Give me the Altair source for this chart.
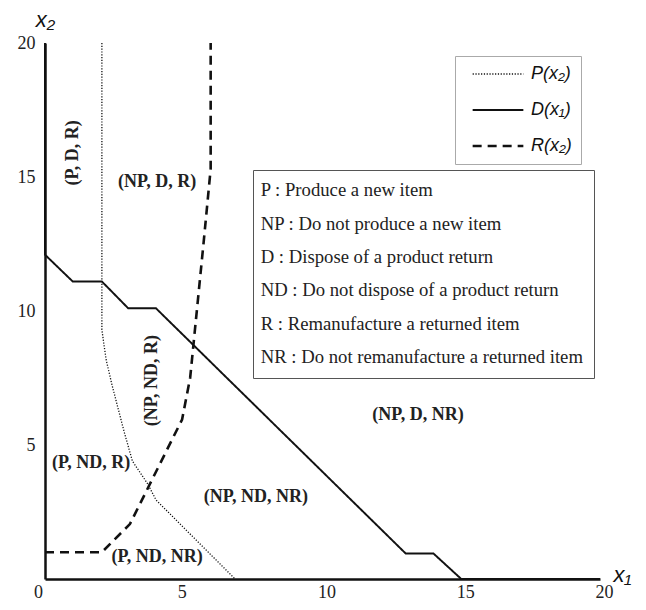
import altair as alt
import pandas as pd

# Threshold curves, coordinates (x1, x2)
P_x1 = [2.05, 2.05, 2.2, 2.4, 2.85, 3.15, 3.7, 4.0, 6.85]
P_x2 = [20.0, 9.3, 8.2, 7.3, 5.5, 4.4, 3.55, 2.95, 0.0]
D_x1 = [0.0, 0.0, 1.0, 2.05, 3.0, 4.0, 13.0, 14.0, 15.0, 20.0]
D_x2 = [20.0, 12.1, 11.1, 11.1, 10.1, 10.1, 0.95, 0.95, 0.0, 0.0]
R_x1 = [0.0, 2.05, 3.06, 4.94, 5.23, 5.48, 5.72, 5.97, 5.97]
R_x2 = [1.0, 1.0, 2.05, 5.95, 7.5, 10.1, 12.6, 15.3, 20.0]
series_names = ["P(x₂)", "D(x₁)", "R(x₂)"]

# Region labels
region_labels = ["(P, D, R)", "(NP, D, R)", "(NP, ND, R)", "(P, ND, R)",
                 "(NP, ND, NR)", "(P, ND, NR)", "(NP, D, NR)"]
region_x1 = [1.0, 4.04, 3.86, 1.66, 7.6, 4.04, 13.44]
region_x2 = [15.9, 14.8, 7.4, 4.33, 3.06, 0.82, 6.12]
region_angle = [270, 0, 270, 0, 0, 0, 0]

# Definitions box
definitions = [
    "P : Produce a new item",
    "NP : Do not produce a new item",
    "D : Dispose of a product return",
    "ND : Do not dispose of a product return",
    "R : Remanufacture a returned item",
    "NR : Do not remanufacture a returned item",
]

x_ticks = [0, 5, 10, 15, 20]
y_ticks = [5, 10, 15, 20]

rows = []
for name, xs, ys in zip(series_names, [P_x1, D_x1, R_x1], [P_x2, D_x2, R_x2]):
    for i, (a, b) in enumerate(zip(xs, ys)):
        rows.append({"series": name, "i": i, "x1": a, "x2": b})
lines_df = pd.DataFrame(rows)

regions_df = pd.DataFrame({"label": region_labels, "x1": region_x1,
                           "x2": region_x2, "angle": region_angle})
defs_df = pd.DataFrame({"definition": definitions})

xscale = alt.Scale(domain=[0, 20], nice=False)
yscale = alt.Scale(domain=[0, 20], nice=False)

xaxis = alt.Axis(values=x_ticks, grid=False, ticks=False, labelFont="Liberation Serif",
                 labelFontSize=18, labelColor="#222", labelPadding=4, labelFlush=False,
                 labelOffset={"condition": [{"test": "datum.value == 0", "value": -7},
                                            {"test": "datum.value == 5", "value": -2}],
                              "value": 4},
                 domainColor="#111",
                 domainWidth=2.5, title="x₁", titleFont="Liberation Sans", titleFontStyle="italic",
                 titleFontWeight="normal", titleFontSize=22, titleColor="#111",
                 titleX=577, titleY=-5, titleAlign="center", titleBaseline="middle")
yaxis = alt.Axis(values=y_ticks, grid=False, ticks=False, labelFont="Liberation Serif",
                 labelFontSize=18, labelColor="#222", labelPadding=10, domainColor="#111",
                 domainWidth=2.5, title="x₂", titleFont="Liberation Sans", titleFontStyle="italic",
                 titleFontWeight="normal", titleFontSize=22, titleColor="#111", titleAngle=0,
                 titleX=0, titleY=-24, titleAlign="center", titleBaseline="middle")

lines = alt.Chart(lines_df).mark_line(color="#111").encode(
    x=alt.X("x1:Q", scale=xscale, axis=xaxis),
    y=alt.Y("x2:Q", scale=yscale, axis=yaxis),
    order=alt.Order("i:Q"),
    strokeDash=alt.StrokeDash(
        "series:N", title=None,
        scale=alt.Scale(domain=series_names, range=[[1.2, 1.6], [1, 0], [9, 6]]),
        legend=alt.Legend(orient="none", legendX=410, legendY=13, symbolType="M-3.9,0H3.9",
                          symbolSize=169, symbolStrokeColor="#111", labelFont="Liberation Sans",
                          labelFontStyle="italic", labelFontSize=18, labelColor="#111",
                          labelOffset=24, rowPadding=18, padding=9, strokeColor="#aaa",
                          symbolOffset=25, labelExpr="datum.label + '     '"),
    ),
    strokeWidth=alt.StrokeWidth(
        "series:N", title=None,
        scale=alt.Scale(domain=series_names, range=[1.3, 2.6, 2.5]),
    ),
)

regions = alt.Chart(regions_df).mark_text(
    font="Liberation Serif", fontWeight="bold", fontSize=18, color="#222",
    align="center", baseline="middle"
).encode(
    x=alt.X("x1:Q", scale=xscale),
    y=alt.Y("x2:Q", scale=yscale),
    text="label:N",
    angle=alt.Angle("angle:Q", scale=None),
)

defs = alt.Chart(defs_df).mark_point(opacity=0).encode(
    shape=alt.Shape(
        "definition:N", title=None,
        scale=alt.Scale(domain=definitions),
        legend=alt.Legend(orient="none", legendX=208, legendY=127, labelFont="Liberation Serif",
                          labelFontSize=18.7, labelColor="#222", labelLimit=600, symbolSize=0,
                          symbolOpacity=0, labelOffset={"expr": "-22"}, rowPadding=13.3,
                          padding=11, strokeColor="#555", fillColor="white"),
    ),
)

chart = alt.layer(lines, regions, defs).properties(
    width=555, height=536,
    padding={"left": 37, "top": 35, "right": 36, "bottom": 23},
    autosize=alt.AutoSizeParams(type="none"),
).configure_view(strokeOpacity=0)

chart.save("out.html", embed_options={"renderer": "svg", "actions": False})
